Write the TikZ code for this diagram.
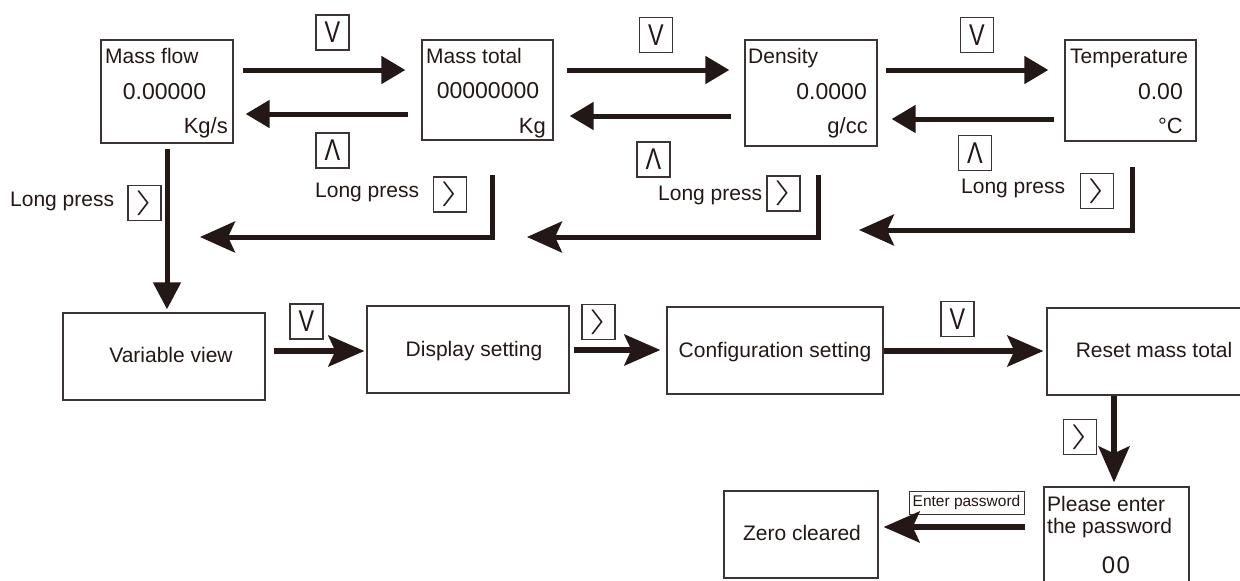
\documentclass[tikz,border=0pt]{standalone}
\usepackage{fontspec}
\usepackage{graphicx}
\setmainfont{Liberation Sans}
\usetikzlibrary{arrows.meta}
\definecolor{ink}{RGB}{35,24,21}
\definecolor{frame}{RGB}{60,52,50}
\newcommand\keyV{\fontsize{30}{30}\selectfont\scalebox{0.78}[1]{V}}
\newcommand\keyA{\fontsize{30}{30}\selectfont\scalebox{0.78}[1]{Λ}}
\newcommand\keyR{\fontsize{23}{23}\selectfont\scalebox{2}[1]{$\rangle$}}
\begin{document}
\begin{tikzpicture}[x=1pt,y=-1pt,
  box/.style={draw=frame, line width=1.3pt, inner sep=0pt, rectangle},
  key/.style={draw=frame, line width=1.1pt, inner sep=0pt, minimum width=33pt, minimum height=35pt, text=ink},
  txt/.style={inner sep=0pt, text=ink, font=\fontsize{21}{25}\selectfont},
  num/.style={inner sep=0pt, text=ink, font=\fontsize{23}{27}\selectfont},
  unit/.style={inner sep=0pt, text=ink, font=\fontsize{22}{26}\selectfont},
  fwd/.style={draw=ink, line width=5pt, -{Triangle[length=24pt,width=27pt]}},
  ret/.style={draw=ink, line width=5pt, -{Stealth[length=35pt,width=31pt,inset=7pt]}},
]
\useasboundingbox (0,0) rectangle (1240,581);
\fill[white] (0,0) rectangle (1240,581);
\clip (0,0) rectangle (1240,581);

% top row boxes
\node[box, minimum width=132pt, minimum height=103pt] (mf) at (167,91.5) {};
\node[box, minimum width=131pt, minimum height=100pt] (mt) at (487.5,90) {};
\node[box, minimum width=132pt, minimum height=106pt] (de) at (811,93) {};
\node[box, minimum width=131pt, minimum height=101pt] (te) at (1130.5,90.5) {};

\node[txt, anchor=base west] (mf1) at (105,63) {Mass flow};
\node[num, anchor=base] (mf2) at (164.5,99) {0.00000};
\node[unit, anchor=base east] (mf3) at (228,133) {Kg/s};
\node[txt, anchor=base west] (mt1) at (426,63) {Mass total};
\node[num, anchor=base] (mt2) at (488,98) {00000000};
\node[unit, anchor=base east] (mt3) at (546,133) {Kg};
\node[txt, anchor=base west] (de1) at (748,63) {Density};
\node[num, anchor=base east] (de2) at (867,99) {0.0000};
\node[unit, anchor=base east] (de3) at (868,133) {g/cc};
\node[txt, anchor=base west] (te1) at (1070,63) {Temperature};
\node[num, anchor=base east] (te2) at (1183,99) {0.00};
\node[unit, anchor=base east] (te3) at (1183,133) {°C};

% bottom boxes
\node[box, minimum width=202pt, minimum height=87pt] (vv) at (164,356.5) {};
\node[box, minimum width=202pt, minimum height=87pt] (ds) at (468,349.5) {};
\node[box, minimum width=216pt, minimum height=87pt] (cf) at (775,350.5) {};
\node[box, minimum width=200pt, minimum height=87pt] (rs) at (1147,351.5) {};
\node[box, minimum width=145pt, minimum height=110pt] (pe) at (1116.5,542) {};
\node[box, minimum width=154pt, minimum height=87pt] (zc) at (801,534.5) {};

\node[txt, anchor=base] (vvt) at (171,362) {Variable view};
\node[txt, anchor=base] (dst) at (474,356) {Display setting};
\node[txt, anchor=base] (cft) at (775,357) {Configuration setting};
\node[txt, anchor=base] (rst) at (1154,357) {Reset mass total};
\node[txt, anchor=base] (zct) at (802,540) {Zero cleared};
\node[txt, anchor=base west] (pe1) at (1047,511) {Please enter};
\node[txt, anchor=base west] (pe2) at (1047,533) {the password};
\node[num, font=\fontsize{24}{28}\selectfont, anchor=base] (pe3) at (1116,573) {0\kern1.5pt0};

% long press labels
\node[txt, anchor=base west] (lp1) at (10,206) {Long press};
\node[txt, anchor=base west] (lp2) at (315,197) {Long press};
\node[txt, anchor=base west] (lp3) at (658,200) {Long press};
\node[txt, anchor=base west] (lp4) at (961,193) {Long press};

% keys
\node[key] (kv1) at (332.5,32.5) {\keyV};
\node[key] (ka1) at (332.5,150.5) {\keyA};
\node[key] (kv2) at (656,35) {\keyV};
\node[key] (ka2) at (653.5,159.5) {\keyA};
\node[key] (kv3) at (977,35) {\keyV};
\node[key] (ka3) at (975,153) {\keyA};
\node[key] (kr1) at (144.5,203) {\keyR};
\node[key] (kr2) at (450,194.5) {\keyR};
\node[key] (kr3) at (783.5,193.5) {\keyR};
\node[key] (kr4) at (1097,191) {\keyR};
\node[key] (kv4) at (306.5,321.5) {\keyV};
\node[key] (kr5) at (598.5,322) {\keyR};
\node[key] (kv5) at (957.5,319) {\keyV};
\node[key] (kr6) at (1080,437) {\keyR};

\node[draw=frame, line width=1pt, minimum width=115pt, minimum height=23pt, inner sep=0pt, text=ink, font=\fontsize{15.5}{18}\selectfont] (ep) at (966.5,502.5) {Enter password};

% level coordinates
\coordinate (yf) at (0,70);
\coordinate (yb1) at (0,114);
\coordinate (yb2) at (0,116);
\coordinate (yb3) at (0,119);
\coordinate (yc1) at (0,351);
\coordinate (yc2) at (0,350);
\coordinate (yp) at (0,527);
\coordinate (xd) at (1114,0);

% top row arrows
\draw[fwd, shorten <=9pt, shorten >=16pt] (mf.east|-yf) -- (mt.west|-yf);
\draw[fwd, shorten <=13pt, shorten >=12pt] (mt.west|-yb1) -- (mf.east|-yb1);
\draw[fwd, shorten <=13pt, shorten >=15pt] (mt.east|-yf) -- (de.west|-yf);
\draw[fwd, shorten <=13pt, shorten >=16pt] (de.west|-yb2) -- (mt.east|-yb2);
\draw[fwd, shorten <=8pt, shorten >=16pt] (de.east|-yf) -- (te.west|-yf);
\draw[fwd, shorten <=10pt, shorten >=14pt] (te.west|-yb3) -- (de.east|-yb3);

% return arrows
\coordinate (r1a) at (492,175); \coordinate (r1b) at (200,237);
\coordinate (r2a) at (818,175); \coordinate (r2b) at (527,237);
\coordinate (r3a) at (1132,167); \coordinate (r3b) at (859,230);
\draw[ret] (r1a) |- (r1b);
\draw[ret] (r2a) |- (r2b);
\draw[ret] (r3a) |- (r3b);

% down from mass flow
\draw[fwd, -{Triangle[length=27pt,width=27pt]}, shorten <=5pt, shorten >=3pt] (mf.south) -- (mf.south|-vv.north);

% bottom arrows
\draw[ret, line width=5.5pt, -{Stealth[length=36pt,width=31pt,inset=7pt]}, shorten <=8pt, shorten >=2pt] (vv.east|-yc1) -- (ds.west|-yc1);
\draw[ret, line width=5.5pt, -{Stealth[length=36pt,width=31pt,inset=7pt]}, shorten <=4pt, shorten >=6pt] (ds.east|-yc2) -- (cf.west|-yc2);
\draw[ret, line width=5.5pt, -{Stealth[length=36pt,width=31pt,inset=7pt]}, shorten >=3pt] (cf.east|-yc1) -- (rs.west|-yc1);
\draw[ret, line width=5.5pt, -{Stealth[length=36pt,width=31pt,inset=7pt]}, shorten >=4pt] (rs.south-|xd) -- (pe.north-|xd);
\draw[ret, line width=5.5pt, -{Stealth[length=36pt,width=31pt,inset=7pt]}, shorten <=18pt, shorten >=5pt] (pe.west|-yp) -- (zc.east|-yp);
\end{tikzpicture}
\end{document}
